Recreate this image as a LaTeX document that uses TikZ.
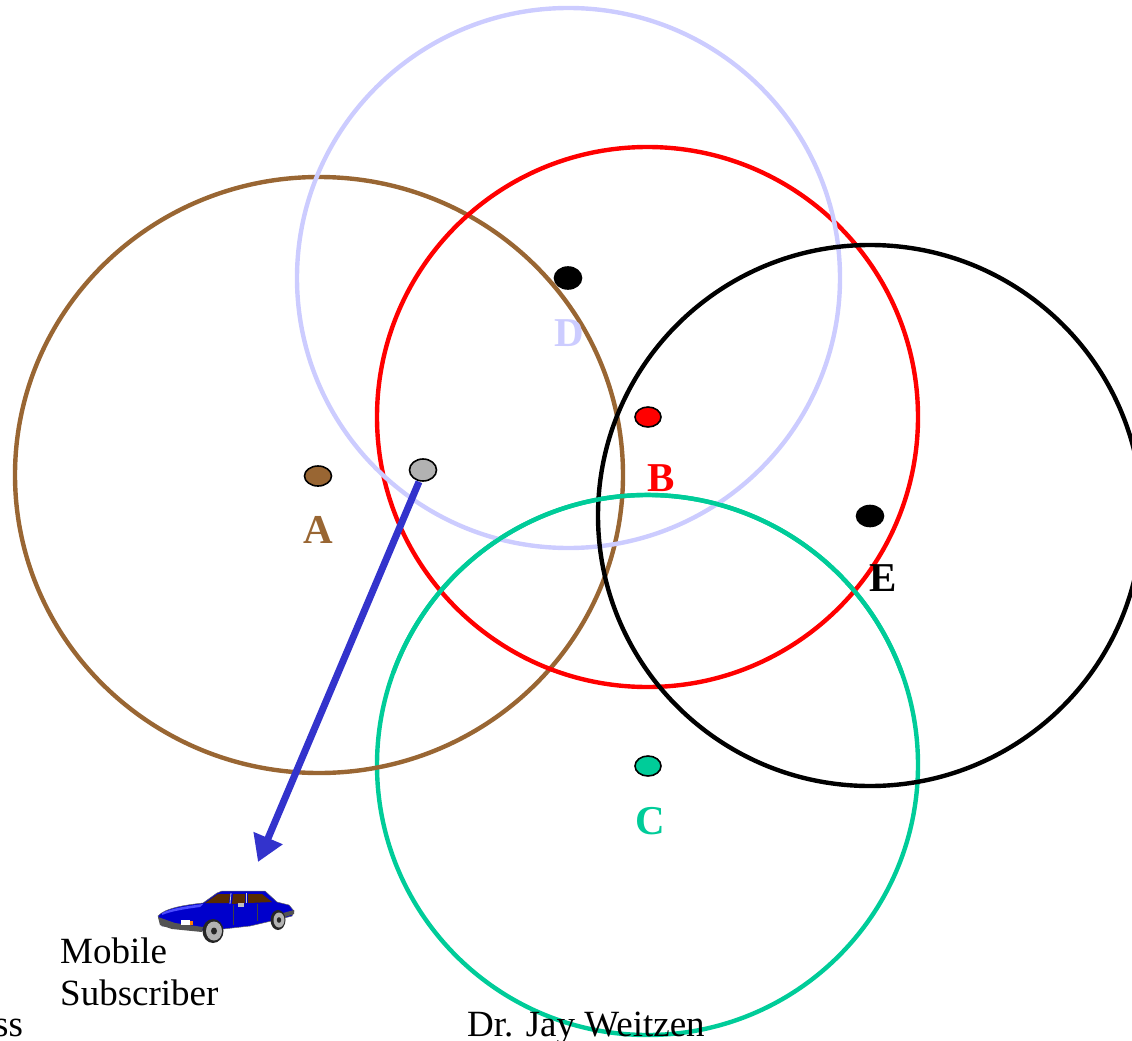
\documentclass[tikz,border=0pt]{standalone}
\usepackage{fontspec}
\setmainfont{Liberation Serif}
\usetikzlibrary{arrows.meta,shapes.geometric}
\definecolor{cbrown}{HTML}{996633}
\definecolor{clav}{HTML}{CCCCFF}
\definecolor{cred}{HTML}{FF0000}
\definecolor{cgreen}{HTML}{00CC99}
\definecolor{cblue}{HTML}{3333CC}
\definecolor{cgray}{HTML}{B2B2B2}
\definecolor{carblue}{HTML}{0000CC}
\definecolor{carseat}{HTML}{663300}
\tikzset{
  cell/.style={line width=4.4pt},
  site/.style={draw=black, line width=1.6pt, shape=ellipse, inner sep=0pt},
  cellname/.style={font=\fontsize{41}{41}\selectfont\bfseries, inner sep=0pt},
  caption/.style={font=\fontsize{37}{40}\selectfont, inner sep=0pt},
}
\begin{document}
\begin{tikzpicture}[x=1pt,y=-1pt]
\useasboundingbox (0,0) rectangle (1132,1041);

% coverage areas of the five base stations
\draw[cell, cgreen] (647.5,765) ellipse [x radius=270.5, y radius=270];
\draw[cell, cbrown] (319,475) ellipse [x radius=304, y radius=298];
\draw[cell, cred] (647.5,417) ellipse [x radius=270.5, y radius=270];
\draw[cell, clav] (568.5,278) ellipse [x radius=271.5, y radius=270];
\draw[cell, black] (870,515.5) ellipse [x radius=272, y radius=270.5];

% base station sites
\node[site, fill=cbrown, minimum width=27pt, minimum height=20pt] (sA) at (318,476) {};
\node[site, fill=cgray, minimum width=27pt, minimum height=22pt] (sM) at (423,470) {};
\node[site, fill=black, minimum width=27pt, minimum height=22pt] (sD) at (568,278) {};
\node[site, fill=cred, minimum width=26pt, minimum height=20pt] (sB) at (648,417) {};
\node[site, fill=black, minimum width=27pt, minimum height=21pt] (sE) at (870,516) {};
\node[site, fill=cgreen, minimum width=26pt, minimum height=20pt] (sC) at (648,766) {};

% cell names
\node[cellname, text=cbrown] (lA) at (318,530) {A};
\node[cellname, text=clav] (lD) at (569,333) {D};
\node[cellname, text=cred] (lB) at (661,478) {B};
\node[cellname, text=black] (lE) at (883,578) {E};
\node[cellname, text=cgreen] (lC) at (650,821) {C};

% mobile subscriber (car)
\coordinate (car) at (258,862);
\begin{scope}
  % body
  \fill[carblue, draw=black!60, line width=0.5pt]
    (158,916) .. controls (165,908) and (185,905) .. (203,903)
    -- (217,893) -- (222,891) -- (265,891) -- (277,902)
    -- (289,905) -- (294,911) -- (292,916) -- (280,919)
    -- (250,926) -- (205,931) -- (162,926) -- cycle;
  % highlight on the hood
  \fill[blue!70!white] (162,913) .. controls (172,908) and (188,906) .. (203,904) -- (200,907) .. controls (185,909) and (172,911) .. (162,915) -- cycle;
  % glass and interior
  \fill[carseat!85!black] (205,903) -- (218,894) -- (230,894) -- (229,903) -- cycle;
  \fill[carseat!85!black] (233,894) -- (245,894) -- (245,903) -- (232,904) -- cycle;
  \fill[carseat!85!black] (248,894) -- (262,894) -- (272,902) -- (248,903) -- cycle;
  \draw[gray!40, line width=0.8pt] (231,893) -- (230,904);
  \draw[gray!40, line width=0.8pt] (246.5,893) -- (246.5,903);
  % door lines and mirror
  \draw[black!75, line width=0.6pt] (233,905) -- (233,925);
  \draw[black!75, line width=0.6pt] (257,904) -- (257,921);
  \fill[gray!50] (238,903) rectangle (244,907);
  % bumpers and lamps
  \fill[gray!65!black] (158,917) -- (160,925) -- (172,929) -- (202,932) -- (203,927) -- (175,923) -- cycle;
  \fill[white] (181,920) rectangle (190,925);
  \fill[orange] (190,921) rectangle (193,925);
  \fill[gray!65!black] (283,913) -- (294,910) -- (294,914) -- (285,917) -- cycle;
  % wheels
  \fill[black!85] (213,931) ellipse [x radius=10.5, y radius=12];
  \fill[gray!60] (214,931) ellipse [x radius=8, y radius=9.5];
  \fill[black!85] (214,931) ellipse [x radius=3, y radius=3.5];
  \fill[black!85] (278,920) ellipse [x radius=7.5, y radius=10];
  \fill[gray!60] (279,920) ellipse [x radius=5.5, y radius=7.5];
  \fill[black!85] (279,920) ellipse [x radius=2.2, y radius=2.8];
\end{scope}

% movement of the subscriber away from the serving site
\coordinate (m0) at ([xshift=-4pt]sM.south);
\draw[cblue, line width=7pt, -{Triangle[length=26pt, width=30pt]}] (m0) -- (car);

% captions
\node[caption, anchor=base west] (mob) at (60,963) {Mobile};
\node[caption, anchor=base west] (sub) at (60,1005) {Subscriber};
\node[caption, anchor=base west] (ss) at (-6,1036) {ss};
\node[caption, anchor=base west] (auth) at (467,1036) {Dr. Jay Weitzen};

% the green coverage edge runs across the bottom caption
\draw[cell, cgreen] (647.5,765) ++(-160:270.5 and 270) arc [start angle=-160, end angle=-20, x radius=270.5, y radius=270];
\end{tikzpicture}
\end{document}
